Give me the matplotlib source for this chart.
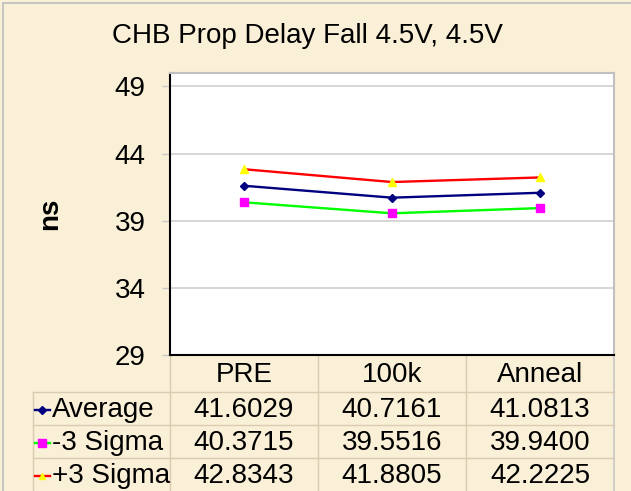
#!/usr/bin/env python3
"""
CHB Prop Delay Fall 4.5V, 4.5V -- Excel-style line chart with data table
"""

import numpy as np
import matplotlib.pyplot as plt
from matplotlib.transforms import blended_transform_factory
from matplotlib.lines import Line2D
from matplotlib.patches import Rectangle

plt.rcParams['font.family'] = ['Liberation Sans', 'DejaVu Sans']

# ============================================================================
# Data
# ============================================================================
CATEGORIES = ['PRE', '100k', 'Anneal']
AVERAGE = [41.6029, 40.7161, 41.0813]
MINUS_3SIGMA = [40.3715, 39.5516, 39.9400]
PLUS_3SIGMA = [42.8343, 41.8805, 42.2225]
SERIES_NAMES = ['Average', '-3 Sigma', '+3 Sigma']
Y_TICKS = [29, 34, 39, 44, 49]

BG = '#FAF0D7'
TABLE_LINE = '#D9CCB0'
FS = 20

# ============================================================================
# Figure
# ============================================================================
W, H = 631, 491
fig = plt.figure(figsize=(W / 100, H / 100), dpi=100, facecolor=BG)

# outer chart frame (left/top edges visible)
fig.patches.append(Rectangle((3 / W, -0.1), 1.2, 1.1 - 3 / H, transform=fig.transFigure,
                             fill=False, edgecolor='#BDBDBD', linewidth=1.2))

ax = fig.add_axes([170 / W, (H - 355) / H, 444 / W, 282 / H])
ax.set_facecolor('white')

x = np.arange(len(CATEGORIES))
styles = [
    dict(color='#000080', marker='D', markersize=4, mfc='#000080', mec='#000080'),
    dict(color='#00FF00', marker='s', markersize=6, mfc='#FF00FF', mec='#FF00FF'),
    dict(color='#FF0000', marker='^', markersize=5.5, mfc='#FFFF00', mec='#FFFF00'),
]
for vals, st in zip([AVERAGE, MINUS_3SIGMA, PLUS_3SIGMA], styles):
    ax.plot(x, vals, linewidth=1.7, zorder=3, **st)

ax.set_xlim(-0.5, 2.5)
ax.set_ylim(29, 50)
ax.set_yticks(Y_TICKS)
ax.set_xticks([])
ax.yaxis.grid(True, color='#CFCFCF', linewidth=1.2)
ax.set_axisbelow(True)
ax.tick_params(axis='y', length=6, width=1, color='#C8C8C8', pad=11.5, labelsize=FS)
for side in ['left', 'bottom']:
    ax.spines[side].set_color('black')
    ax.spines[side].set_linewidth(1.5)
for side in ['top', 'right']:
    ax.spines[side].set_color('#C0C0C0')
    ax.spines[side].set_linewidth(1.5)

ax.set_ylabel('ns', fontsize=FS, fontweight='bold', labelpad=37)
fig.text(307 / W, 1 - 36 / H, 'CHB Prop Delay Fall 4.5V, 4.5V', fontsize=FS,
         ha='center', va='center')

# ============================================================================
# Data table under the axes
# ============================================================================
tr = blended_transform_factory(ax.transData, ax.transAxes)
row_edges = [0, -0.1312, -0.2482, -0.3652, -0.4823]
x_left = -1.4257

# header row: category names
for xi, cat in zip(x, CATEGORIES):
    ax.text(xi, (row_edges[0] + row_edges[1]) / 2 - 0.004, cat, transform=tr, fontsize=FS,
            ha='center', va='center', clip_on=False)

# vertical table lines
for xv in [-0.5, 0.5, 1.5]:
    ax.add_line(Line2D([xv, xv], [0, row_edges[-1] - 0.05], transform=tr, color=TABLE_LINE,
                       linewidth=1, clip_on=False))
ax.add_line(Line2D([2.5, 2.5], [0, row_edges[-1] - 0.05], transform=tr, color='#C8C8C8',
                   linewidth=1.2, clip_on=False))
ax.add_line(Line2D([x_left, x_left], [row_edges[1], row_edges[-1] - 0.05], transform=tr,
                   color=TABLE_LINE, linewidth=1, clip_on=False))
# horizontal table lines
for yv in row_edges[1:4]:
    ax.add_line(Line2D([x_left, 2.5], [yv, yv], transform=tr, color=TABLE_LINE,
                       linewidth=1, clip_on=False))

# series rows
for r, (name, vals, st) in enumerate(zip(SERIES_NAMES, [AVERAGE, MINUS_3SIGMA, PLUS_3SIGMA], styles)):
    yc = (row_edges[r + 1] + row_edges[r + 2]) / 2 - 0.004
    key = dict(st)
    key['markersize'] = key['markersize'] * 0.9
    ax.add_line(Line2D([-1.412, -1.311], [yc, yc], transform=tr, linewidth=1.7,
                       clip_on=False, **{k: v for k, v in key.items() if k != 'marker'}))
    ax.add_line(Line2D([-1.3615], [yc], transform=tr, linestyle='none', clip_on=False, **key))
    ax.text(-1.297, yc, name, transform=tr, fontsize=FS, ha='left', va='center', clip_on=False)
    for xi, v in zip(x, vals):
        ax.text(xi, yc, f'{v:.4f}', transform=tr, fontsize=FS, ha='center', va='center',
                clip_on=False)

plt.savefig('out.png', dpi=100, facecolor=BG)
